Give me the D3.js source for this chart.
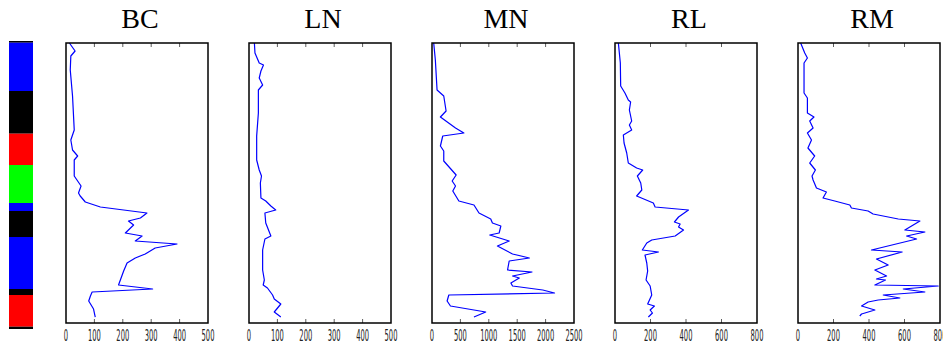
<!DOCTYPE html>
<html>
<head>
<meta charset="utf-8">
<script src="https://cdn.jsdelivr.net/npm/d3@7/dist/d3.min.js"></script>
<style>
  body { margin: 0; background: #fff; }
  svg { display: block; }
</style>
</head>
<body>
<div id="chart"></div>
<script>
// panel names and x-axis maxima
const names = ["BC", "LN", "MN", "RL", "RM"];
const xMax = [500, 500, 2500, 800, 800];
const xTicks = [
  [0, 100, 200, 300, 400, 500],
  [0, 100, 200, 300, 400, 500],
  [0, 500, 1000, 1500, 2000, 2500],
  [0, 200, 400, 600, 800],
  [0, 200, 400, 600, 800]
];

// depth (0 = top of core) and values per series
const bcDepth = [0, 8, 13, 27, 53, 87, 97, 107, 113, 117, 133, 138, 143, 150, 153, 159, 164, 170, 175, 178, 182, 190, 193, 198, 201, 205, 211, 215, 220, 228, 242, 246, 249, 253, 258, 266, 274];
const bcVal   = [12, 32, 17, 15, 23, 29, 17, 23, 41, 29, 29, 41, 53, 44, 50, 68, 121, 285, 262, 220, 238, 209, 268, 244, 391, 314, 279, 244, 215, 203, 185, 305, 92, 86, 80, 97, 103];

const lnDepth = [0, 10, 20, 22, 28, 35, 42, 47, 70, 93, 117, 127, 133, 140, 155, 158, 163, 167, 170, 180, 193, 196, 207, 227, 237, 242, 245, 252, 256, 261, 269, 272, 274];
const lnVal   = [19, 21, 36, 51, 42, 36, 48, 33, 33, 27, 27, 36, 44, 40, 42, 59, 77, 94, 56, 59, 77, 56, 48, 48, 54, 50, 65, 83, 89, 112, 89, 103, 112];

const mnDepth = [0, 17, 47, 53, 68, 74, 85, 90, 93, 103, 108, 118, 132, 138, 143, 148, 158, 162, 170, 176, 180, 183, 190, 192, 198, 203, 211, 215, 218, 227, 229, 233, 235, 240, 243, 247, 250, 252, 258, 263, 269, 274];
const mnVal   = [30, 59, 89, 207, 248, 148, 414, 561, 189, 148, 207, 207, 425, 355, 414, 366, 473, 739, 827, 1034, 1064, 1212, 1182, 1017, 1359, 1152, 1418, 1714, 1359, 1330, 1761, 1418, 1537, 1389, 1418, 1950, 2157, 296, 266, 325, 946, 739];

const rlDepth = [0, 20, 43, 50, 57, 59, 67, 78, 82, 87, 92, 100, 110, 120, 125, 127, 133, 140, 147, 153, 160, 164, 167, 174, 179, 181, 184, 187, 193, 197, 200, 207, 209, 212, 220, 228, 237, 243, 252, 261, 263, 267, 270, 274];
const rlVal   = [19, 30, 32, 56, 75, 88, 81, 94, 81, 94, 47, 51, 66, 75, 122, 156, 126, 145, 151, 122, 216, 226, 414, 358, 335, 367, 358, 386, 339, 207, 179, 154, 245, 169, 179, 184, 175, 198, 207, 184, 222, 198, 211, 188];

const rmDepth = [0, 10, 15, 20, 50, 55, 70, 74, 78, 85, 90, 97, 105, 113, 120, 127, 133, 137, 145, 149, 155, 158, 162, 165, 168, 171, 176, 178, 187, 189, 193, 196, 207, 209, 216, 222, 227, 233, 236, 237, 242, 243, 246, 249, 252, 255, 257, 259, 263, 267, 271, 273];
const rmVal   = [15, 38, 53, 34, 34, 53, 53, 90, 66, 85, 53, 76, 56, 94, 66, 98, 79, 85, 104, 160, 141, 207, 292, 301, 395, 423, 565, 687, 602, 715, 612, 668, 414, 587, 442, 508, 433, 499, 442, 493, 433, 790, 593, 715, 480, 574, 452, 395, 358, 433, 358, 348];

// facies bar: segment tops and colors
const faciesTop   = [0, 1.7, 50, 92.7, 124, 162, 170, 196, 248, 254, 285.7];
const faciesColor = ["#000000", "#0000ff", "#000000", "#ff0000", "#00ff00", "#0000ff", "#000000", "#0000ff", "#000000", "#ff0000", "#000000"];
const faciesEnd = 288;

const depths = [bcDepth, lnDepth, mnDepth, rlDepth, rmDepth];
const values = [bcVal, lnVal, mnVal, rlVal, rmVal];

const width = 943, height = 345;
const plotTop = 43, plotBottom = 323;
const panelW = 142, firstLeft = 66, step = 183;

const svg = d3.select("#chart").append("svg")
  .attr("width", width)
  .attr("height", height);

// facies color bar
const yBar = d3.scaleLinear().domain([0, faciesEnd]).range([41, 329]);
svg.append("g")
  .selectAll("rect")
  .data(faciesTop)
  .enter().append("rect")
  .attr("x", 9)
  .attr("width", 24)
  .attr("y", d => yBar(d))
  .attr("height", (d, i) => yBar(i < faciesTop.length - 1 ? faciesTop[i + 1] : faciesEnd) - yBar(d))
  .attr("fill", (d, i) => faciesColor[i]);

const y = d3.scaleLinear().domain([0, 280]).range([plotTop, plotBottom]);

names.forEach((name, i) => {
  const left = firstLeft + i * step;
  const x = d3.scaleLinear().domain([0, xMax[i]]).range([left, left + panelW]);
  const g = svg.append("g");

  // title
  g.append("text")
    .attr("x", left + panelW / 2 + 3)
    .attr("y", 28)
    .attr("text-anchor", "middle")
    .style("font-family", "'Liberation Serif', 'DejaVu Serif', serif")
    .style("font-size", "28px")
    .text(name);

  // inward ticks top and bottom
  const inner = xTicks[i].slice(1, -1);
  g.selectAll(".tb").data(inner).enter().append("line")
    .attr("x1", d => x(d)).attr("x2", d => x(d))
    .attr("y1", plotBottom).attr("y2", plotBottom - 4)
    .attr("stroke", "#333").attr("stroke-width", 0.8);
  g.selectAll(".tt").data(inner).enter().append("line")
    .attr("x1", d => x(d)).attr("x2", d => x(d))
    .attr("y1", plotTop).attr("y2", plotTop + 4)
    .attr("stroke", "#333").attr("stroke-width", 0.8);

  // tick labels (narrow)
  g.selectAll(".lbl").data(xTicks[i]).enter().append("text")
    .attr("transform", d => `translate(${x(d)},341) scale(0.5,1)`)
    .attr("text-anchor", "middle")
    .style("font-family", "'DejaVu Sans Condensed', 'DejaVu Sans', sans-serif")
    .style("font-size", "15px")
    .attr("fill", "#222")
    .text(d => d);

  // profile line
  const pts = depths[i].map((d, k) => [values[i][k], d]);
  g.append("path")
    .datum(pts)
    .attr("fill", "none")
    .attr("stroke", "#0000ff")
    .attr("stroke-width", 1.2)
    .attr("stroke-linejoin", "round")
    .attr("d", d3.line().x(d => x(d[0])).y(d => y(d[1])));

  // box
  g.append("rect")
    .attr("x", left).attr("y", plotTop)
    .attr("width", panelW).attr("height", plotBottom - plotTop)
    .attr("fill", "none")
    .attr("stroke", "#000")
    .attr("stroke-width", 1.5);
});
</script>
</body>
</html>
